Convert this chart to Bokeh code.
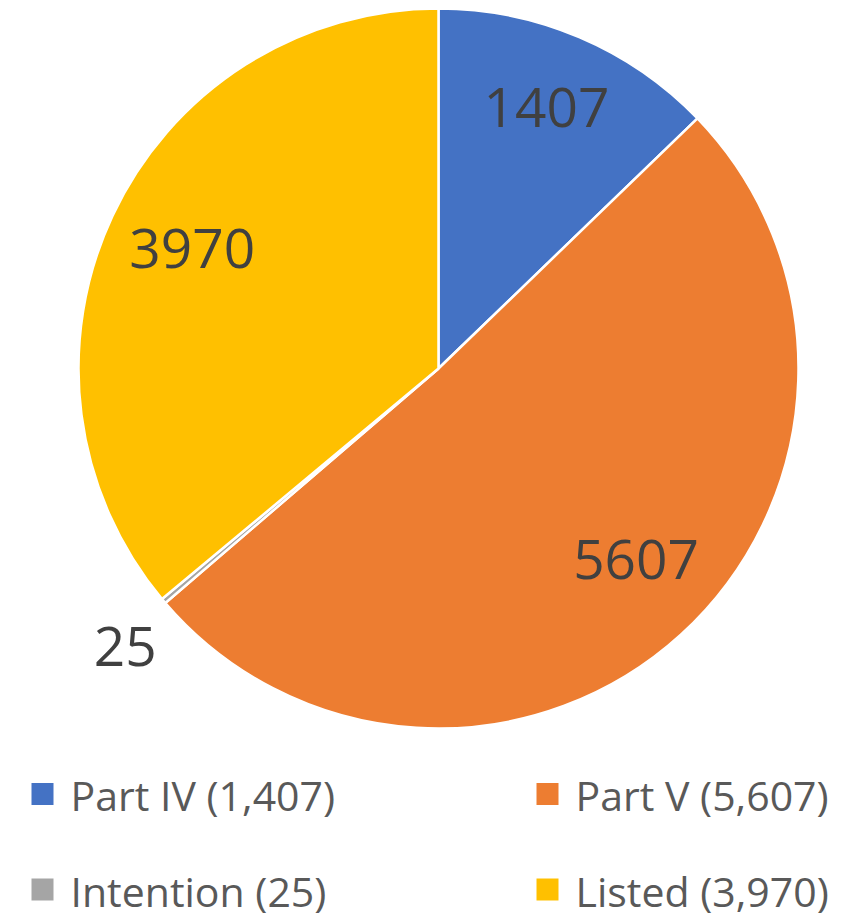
import math
from bokeh.plotting import figure
from bokeh.models import Range1d, ColumnDataSource
from bokeh.core.properties import value
from bokeh.embed import file_html
from bokeh.resources import INLINE

# ---- data ----
categories = ["Part IV", "Part V", "Intention", "Listed"]
counts = [1407, 5607, 25, 3970]
colors = ["#4472C4", "#ED7D31", "#A5A5A5", "#FFC000"]

W, H = 838, 918
FONT = "Open Sans"
TXT = "#404040"


def PY(y):
    return H - y


p = figure(width=W, height=H, x_range=Range1d(0, W), y_range=Range1d(0, H),
           output_backend="svg", toolbar_location=None, min_border=0)
p.axis.visible = False
p.grid.visible = False
p.outline_line_color = None
p.background_fill_color = "white"
p.border_fill_color = "white"

cx, cy, R = 438, PY(368), 360
total = sum(counts)
starts, ends, mids = [], [], []
acc = 0
for c in counts:
    a0 = math.pi / 2 - 2 * math.pi * acc / total
    acc += c
    a1 = math.pi / 2 - 2 * math.pi * acc / total
    starts.append(a0)
    ends.append(a1)
    mids.append((a0 + a1) / 2)

src = ColumnDataSource(dict(start=starts, end=ends, color=colors))
p.wedge(x=cx, y=cy, radius=R, start_angle="start", end_angle="end",
        direction="clock", fill_color="color", line_color="white",
        line_width=2.5, source=src)

# data labels (positioned along each slice's mid-angle)
label_r = [282, 275, 419, 274]
label_shift_deg = [0.5, 3.6, 1.4, -0.9]
lang = [m + math.radians(s) for m, s in zip(mids, label_shift_deg)]
lx = [cx + r * math.cos(a) for r, a in zip(label_r, lang)]
ly = [cy + r * math.sin(a) for r, a in zip(label_r, lang)]
p.text(x=lx, y=ly, text=[str(c) for c in counts], text_font=value(FONT),
       text_font_size="55px", text_color=TXT, text_align="center",
       text_baseline="middle")

# legend
leg_x = [31, 536, 31, 536]
leg_y = [PY(793.5), PY(793.5), PY(889), PY(889)]
p.rect(x=[x + 11 for x in leg_x], y=leg_y, width=22, height=22,
       fill_color=colors, line_color=None)
p.text(x=[x + 39 for x in leg_x], y=[y - 1 for y in leg_y],
       text=[f"{n} ({c:,})" for n, c in zip(categories, counts)],
       text_font=value(FONT), text_font_size="41px", text_color="#595959",
       text_align="left", text_baseline="middle")

open("out.html", "w").write(file_html(p, INLINE))
